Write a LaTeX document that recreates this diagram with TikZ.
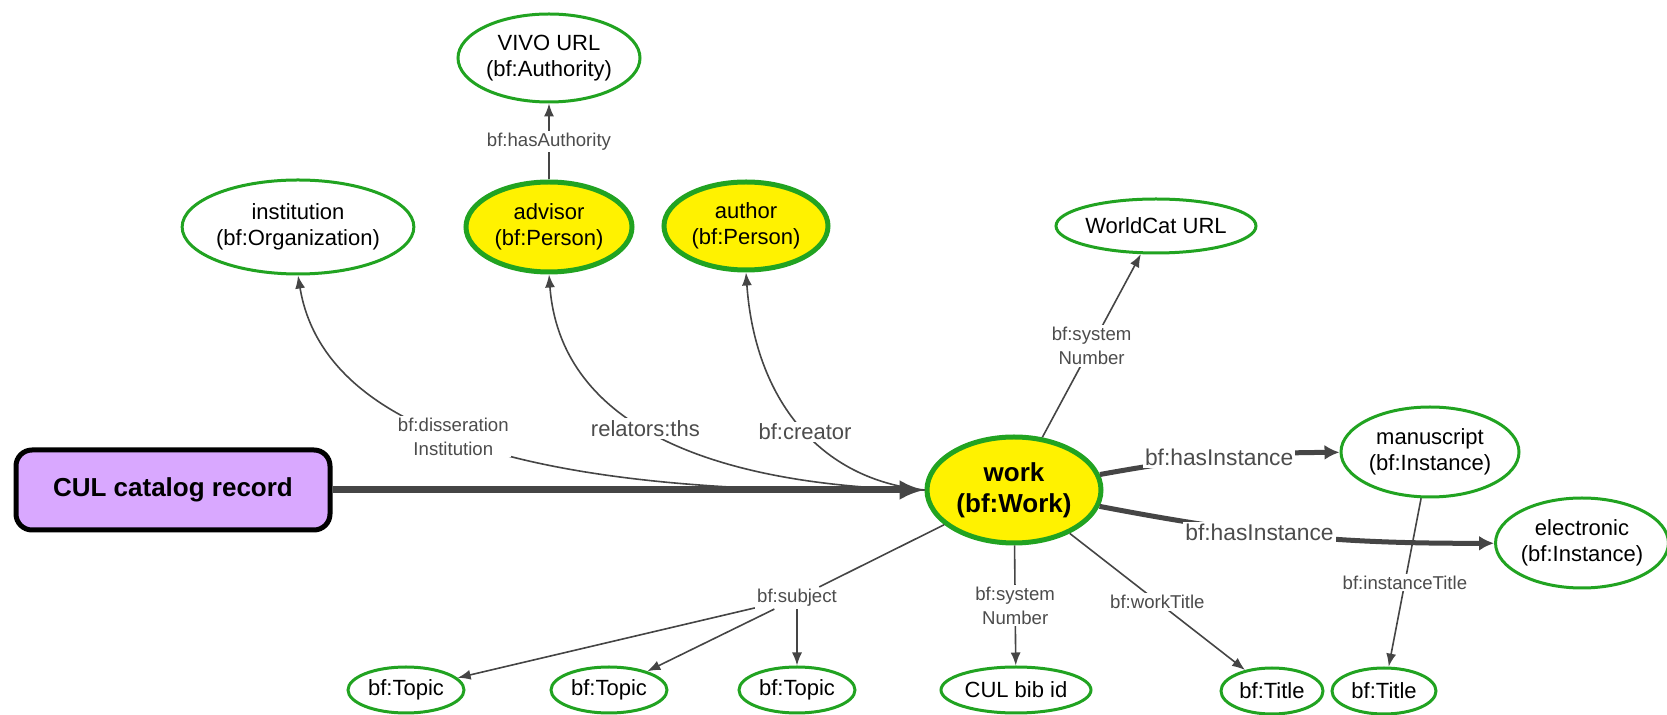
\documentclass[tikz,border=0pt]{standalone}
\usepackage{fontspec}
\setmainfont{Liberation Sans}
\setsansfont{Liberation Sans}
\usetikzlibrary{shapes.geometric}
\usetikzlibrary{arrows.meta}

\begin{document}
\begin{tikzpicture}[x=0.5pt, y=-0.5pt]

\definecolor{ringgreen}{rgb}{0.13,0.64,0.13}
\definecolor{edgegray}{rgb}{0.27,0.27,0.27}
\definecolor{textgray}{rgb}{0.30,0.30,0.30}
\definecolor{recpurple}{rgb}{0.85,0.66,1.0}

\tikzset{cls/.style={ellipse, draw=ringgreen, line width=1.5pt, fill=white, inner sep=0pt, align=center, font=\fontsize{11}{13}\selectfont}}
\tikzset{hub/.style={cls, fill=yellow, line width=2.5pt}}
\tikzset{rel/.style={draw=edgegray, line width=0.8pt, -{Latex[length=6.5pt,width=5pt]}}}
\tikzset{bigrel/.style={draw=edgegray, line width=2.5pt, -{Latex[length=7.5pt,width=7.5pt]}}}
\tikzset{lbl/.style={fill=white, inner sep=1pt, text=textgray, align=center, font=\fontsize{9.3}{12}\selectfont}}
\tikzset{biglbl/.style={lbl, font=\fontsize{11}{13}\selectfont}}

\useasboundingbox (0,0) rectangle (1667,715);

% top row
\node[cls, minimum width=91pt, minimum height=44pt] (vivo) at (549,58) {VIVO URL\\(bf:Authority)};
\node[cls, minimum width=115pt, minimum height=47pt] (inst) at (298,227) {institution\\(bf:Organization)};
\node[hub, minimum width=83pt, minimum height=45pt] (advisor) at (549,227) {advisor\\(bf:Person)};
\node[hub, minimum width=82pt, minimum height=44pt] (author) at (746,226) {author\\(bf:Person)};
\node[cls, minimum width=96pt, minimum height=27pt] (wcat) at (1156,226) {WorldCat URL};

% middle
\node[draw=black, line width=2.5pt, fill=recpurple, rounded corners=8pt, minimum width=157pt, minimum height=40pt, font=\bfseries\fontsize{13}{15}\selectfont] (cul) at (173,490) {CUL catalog record};
\node[hub, minimum width=87pt, minimum height=53pt, font=\bfseries\fontsize{13}{15.5}\selectfont] (work) at (1014,490) {work\\(bf:Work)};
\node[cls, minimum width=89pt, minimum height=45pt] (manu) at (1430,452) {manuscript\\(bf:Instance)};
\node[cls, minimum width=84pt, minimum height=45pt] (elec) at (1582,543) {electronic\\(bf:Instance)};

% bottom row
\node[cls, minimum width=58pt, minimum height=23pt] (topicA) at (406,690) {bf:Topic};
\node[cls, minimum width=58pt, minimum height=23pt] (topicB) at (609,690) {bf:Topic};
\node[cls, minimum width=58pt, minimum height=23pt] (topicC) at (797,690) {bf:Topic};
\node[cls, minimum width=75pt, minimum height=23pt] (bibid) at (1016,690) {CUL bib id};
\node[cls, minimum width=51pt, minimum height=23pt] (titleA) at (1272,691) {bf:Title};
\node[cls, minimum width=52pt, minimum height=23pt] (titleB) at (1384,691) {bf:Title};

\draw[draw=edgegray, line width=3.5pt, -{Latex[length=12.5pt,width=10pt]}] (cul) -- (work);

\draw[rel] (advisor) -- node[lbl] {bf:hasAuthority} (vivo);

\draw[rel] (work.west) .. controls (650,495) and (330,470) .. node[lbl, pos=0.6] {bf:disseration\\Institution} (inst.south);
\draw[rel] (work.west) .. controls (700,485) and (560,420) .. node[biglbl, pos=0.53] {relators:ths} (advisor.south);
\draw[rel] (work.west) .. controls (820,480) and (755,400) .. node[biglbl, pos=0.47] {bf:creator} (author.south);

\draw[rel] (work) -- node[lbl] {bf:system\\Number} (wcat);

\draw[bigrel] (work) to[bend left=5] node[biglbl, font=\fontsize{11.4}{13}\selectfont] {bf:hasInstance} (manu);
\draw[bigrel] (work) to[bend right=5.5] node[biglbl, pos=0.4, font=\fontsize{11.4}{13}\selectfont] {bf:hasInstance} (elec);

\node[lbl] (subj) at (797,598) {bf:subject};
\draw[draw=edgegray, line width=0.8pt] (work) -- (subj);
\draw[rel] (subj) -- (topicA);
\draw[rel] (subj) -- (topicB);
\draw[rel] (subj) -- (topicC);

\draw[rel] (work) -- node[lbl] {bf:system\\Number} (bibid);
\draw[rel] (work) -- node[lbl] {bf:workTitle} (titleA);
\draw[rel] (manu) -- node[lbl] {bf:instanceTitle} (titleB);

\end{tikzpicture}
\end{document}
